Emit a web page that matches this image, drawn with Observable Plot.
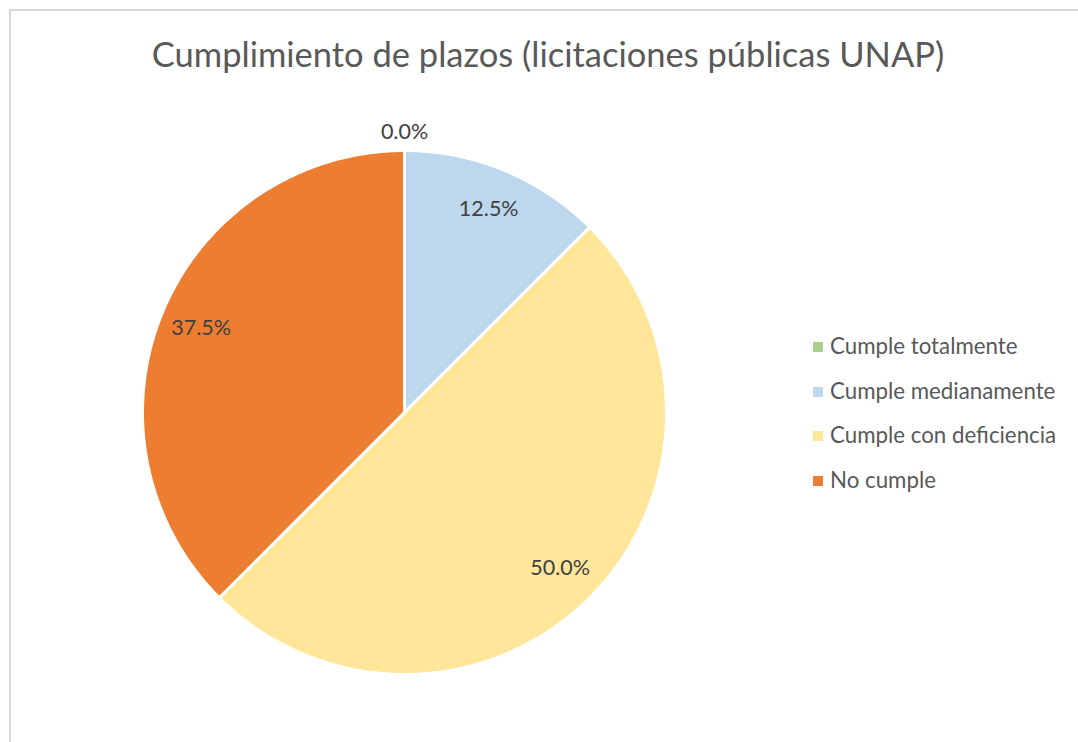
<!DOCTYPE html>
<html>
<head>
<meta charset="utf-8">
<script src="https://cdn.jsdelivr.net/npm/d3@7"></script>
<script src="https://cdn.jsdelivr.net/npm/@observablehq/plot@0.6"></script>
<style>
  html, body { margin: 0; padding: 0; background: #fff; overflow: hidden; width: 1078px; height: 742px; }
  #frame { position: absolute; left: 9px; top: 9px; width: 1100px; height: 800px; border: 2px solid #d9d9d9; box-sizing: border-box; }
  #title { position: absolute; left: 0; width: 1096px; top: 33px; text-align: center; font-family: Lato, "Open Sans", sans-serif; font-size: 34.5px; color: #595959; }
  #chart { position: absolute; left: 0; top: 0; }
  #legend { position: absolute; left: 811px; top: 332px; font-family: Lato, "Open Sans", sans-serif; font-size: 22.3px; color: #595959; }
  .item { height: 44.7px; display: flex; align-items: flex-start; }
  .sw { width: 10px; height: 10px; margin: 10px 7px 0 2px; }
</style>
</head>
<body>
<div id="frame"></div>
<div id="chart"></div>
<div id="title">Cumplimiento de plazos (licitaciones públicas UNAP)</div>
<div id="legend"></div>
<script>
const categories = ["Cumple totalmente", "Cumple medianamente", "Cumple con deficiencia", "No cumple"];
const shares = [0.0, 12.5, 50.0, 37.5];
const labels = ["0.0%", "12.5%", "50.0%", "37.5%"];
const palette = ["#A9D18E", "#BDD7EE", "#FFE699", "#ED7D31"];

const data = categories.map((c, i) => ({cat: c, value: shares[i], label: labels[i], color: palette[i]}));
const total = d3.sum(data, d => d.value);

// angles clockwise from 12 o'clock
let acc = 0;
const slices = data.map(d => {
  const a0 = acc / total * 2 * Math.PI;
  acc += d.value;
  const a1 = acc / total * 2 * Math.PI;
  return {...d, a0, a1};
});

function polygon(s) {
  const n = Math.max(2, Math.ceil((s.a1 - s.a0) / (Math.PI / 180)));
  const pts = [{x: 0, y: 0}];
  for (let k = 0; k <= n; k++) {
    const a = s.a0 + (s.a1 - s.a0) * k / n;
    pts.push({x: Math.sin(a), y: Math.cos(a)});
  }
  return pts;
}

const labelPts = slices.map(s => {
  const m = (s.a0 + s.a1) / 2;
  const r = s.value === 0 ? 1.07 : 0.84;
  return {x: r * Math.sin(m), y: r * Math.cos(m), label: s.label};
});

const marks = slices.filter(s => s.value > 0).map(s =>
  Plot.line(polygon(s), {x: "x", y: "y", fill: s.color, stroke: "#fff", strokeWidth: 3, curve: "linear-closed"})
);
marks.push(Plot.text(labelPts, {x: "x", y: "y", text: "label", fill: "#404040", fontSize: 21.5, fontFamily: "Lato, 'Open Sans', sans-serif"}));

const R = 262, cx = 404, cy = 412;
const chart = Plot.plot({
  width: 1078,
  height: 742,
  x: {domain: [-1, 1], range: [cx - R, cx + R], axis: null},
  y: {domain: [-1, 1], range: [cy + R, cy - R], axis: null},
  style: {background: "transparent", overflow: "visible"},
  marks
});
document.getElementById("chart").appendChild(chart);

const legend = document.getElementById("legend");
data.forEach(d => {
  const it = document.createElement("div");
  it.className = "item";
  const sw = document.createElement("div");
  sw.className = "sw";
  sw.style.background = d.color;
  const tx = document.createElement("span");
  tx.textContent = d.cat;
  it.appendChild(sw); it.appendChild(tx);
  legend.appendChild(it);
});
</script>
</body>
</html>
